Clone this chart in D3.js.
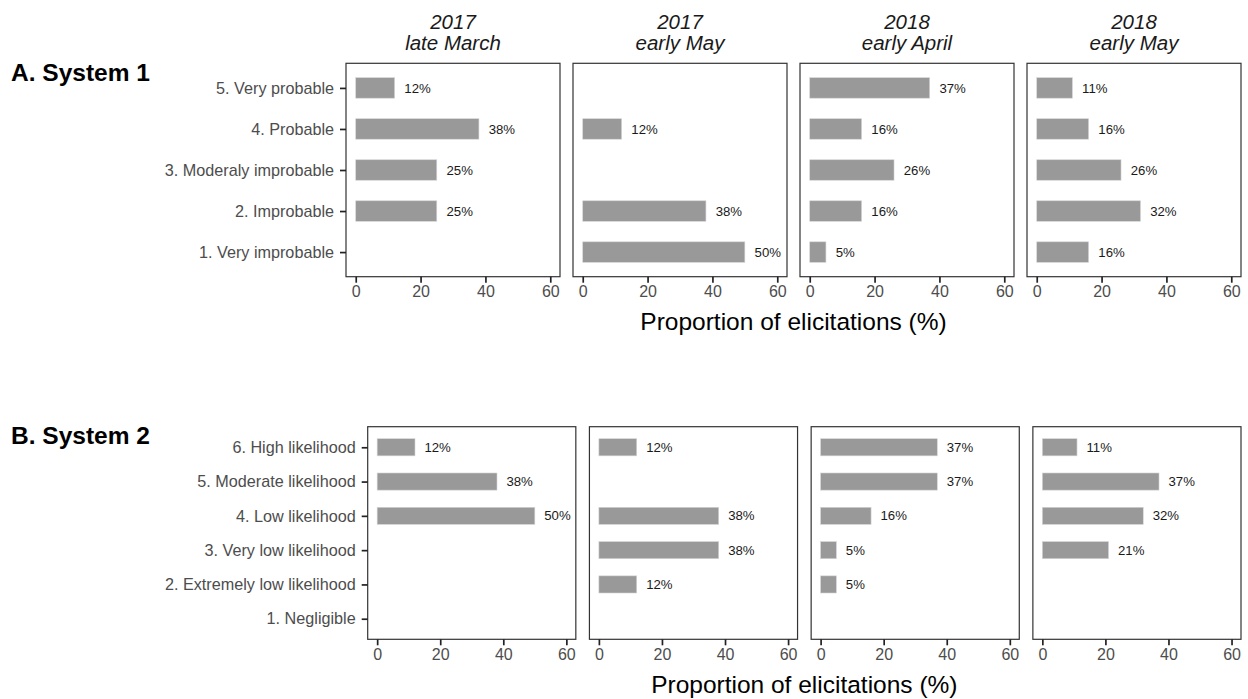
<!DOCTYPE html>
<html>
<head>
<meta charset="utf-8">
<script src="https://cdn.jsdelivr.net/npm/d3@7"></script>
<style>
  html, body { margin: 0; padding: 0; background: #ffffff; }
  svg { display: block; font-family: "Liberation Sans", Arial, Helvetica, sans-serif; }
</style>
</head>
<body>
<svg id="chart" width="1248" height="699"></svg>
<script>
// ---------- DATA ----------
const periods = ["2017\nlate March", "2017\nearly May", "2018\nearly April", "2018\nearly May"];

const system1Categories = ["5. Very probable", "4. Probable", "3. Moderaly improbable", "2. Improbable", "1. Very improbable"];
const system1_2017_lateMarch = [12, 38, 25, 25, null];
const system1_2017_earlyMay = [null, 12, null, 38, 50];
const system1_2018_earlyApril = [37, 16, 26, 16, 5];
const system1_2018_earlyMay = [11, 16, 26, 32, 16];

const system2Categories = ["6. High likelihood", "5. Moderate likelihood", "4. Low likelihood", "3. Very low likelihood", "2. Extremely low likelihood", "1. Negligible"];
const system2_2017_lateMarch = [12, 38, 50, null, null, null];
const system2_2017_earlyMay = [12, null, 38, 38, 12, null];
const system2_2018_earlyApril = [37, 37, 16, 5, 5, null];
const system2_2018_earlyMay = [11, 37, 32, 21, null, null];

const xTicks = [0, 20, 40, 60];
const xDomain = [-3, 63];
const axisTitle = "Proportion of elicitations (%)";
const rowTitles = ["A. System 1", "B. System 2"];

// ---------- LAYOUT ----------
const svg = d3.select("#chart");
const rows = [
  { title: rowTitles[0], cats: system1Categories,
    series: [system1_2017_lateMarch, system1_2017_earlyMay, system1_2018_earlyApril, system1_2018_earlyMay],
    left: 346, right: 1241, top: 63.3, bottom: 276.7, gap: 13, titleY: 81, showHeaders: true, axisTitleY: 330 },
  { title: rowTitles[1], cats: system2Categories,
    series: [system2_2017_lateMarch, system2_2017_earlyMay, system2_2018_earlyApril, system2_2018_earlyMay],
    left: 367.7, right: 1241, top: 426.7, bottom: 639.3, gap: 13.6, titleY: 443.5, showHeaders: false, axisTitleY: 693 }
];

const textCol = "#4d4d4d";
const borderCol = "#333333";
const barFill = "#999999";

rows.forEach(row => {
  const n = row.series.length;
  const pw = (row.right - row.left - row.gap * (n - 1)) / n;

  // row label
  svg.append("text")
    .attr("x", 11).attr("y", row.titleY)
    .attr("font-size", 24.5).attr("font-weight", "bold").attr("fill", "#000")
    .text(row.title);

  // y scale (shared)
  const y = d3.scalePoint().domain(row.cats).range([row.top, row.bottom]).padding(0.6);
  const step = y.step();
  const barH = step * 0.5;

  row.series.forEach((vals, i) => {
    const x0 = row.left + i * (pw + row.gap);
    const x = d3.scaleLinear().domain(xDomain).range([x0, x0 + pw]);
    const g = svg.append("g");

    // bars
    const data = row.cats.map((c, k) => ({ cat: c, v: vals[k] })).filter(d => d.v !== null);
    g.selectAll("rect.bar").data(data).enter().append("rect")
      .attr("class", "bar")
      .attr("x", x(0))
      .attr("y", d => y(d.cat) - barH / 2)
      .attr("width", d => x(d.v) - x(0))
      .attr("height", barH)
      .attr("fill", barFill)
      .attr("stroke", "#d6d6d6").attr("stroke-width", 0.6);

    // value labels
    g.selectAll("text.lab").data(data).enter().append("text")
      .attr("class", "lab")
      .attr("x", d => x(d.v + 3))
      .attr("y", d => y(d.cat))
      .attr("dy", "0.35em")
      .attr("font-size", 13.2).attr("fill", "#1a1a1a")
      .text(d => d.v + "%");

    // panel border
    g.append("rect")
      .attr("x", x0).attr("y", row.top)
      .attr("width", pw).attr("height", row.bottom - row.top)
      .attr("fill", "none").attr("stroke", borderCol).attr("stroke-width", 1.2);

    // x axis
    const xa = g.append("g").attr("transform", `translate(0,${row.bottom})`)
      .call(d3.axisBottom(x).tickValues(xTicks).tickSize(6).tickPadding(3));
    xa.select(".domain").remove();
    xa.selectAll(".tick line").attr("stroke", "#222").attr("stroke-width", 1.7);
    xa.selectAll(".tick text").attr("font-size", 16).attr("fill", textCol)
      .attr("font-family", "'Liberation Sans', Arial, sans-serif");

    // y axis on first panel
    if (i === 0) {
      const ya = g.append("g").attr("transform", `translate(${x0},0)`)
        .call(d3.axisLeft(y).tickSize(6).tickPadding(6));
      ya.select(".domain").remove();
      ya.selectAll(".tick line").attr("stroke", "#222").attr("stroke-width", 1.7);
      ya.selectAll(".tick text").attr("font-size", 16.2).attr("fill", textCol)
        .attr("font-family", "'Liberation Sans', Arial, sans-serif");
    }

    // strip headers
    if (row.showHeaders) {
      const lines = periods[i].split("\n");
      const cx = x0 + pw / 2;
      svg.append("text").attr("x", cx).attr("y", 28.5)
        .attr("text-anchor", "middle").attr("font-size", 20.5).attr("font-style", "italic")
        .attr("fill", "#1a1a1a").text(lines[0]);
      svg.append("text").attr("x", cx).attr("y", 50)
        .attr("text-anchor", "middle").attr("font-size", 20.5).attr("font-style", "italic")
        .attr("fill", "#1a1a1a").text(lines[1]);
    }
  });

  // axis title
  svg.append("text")
    .attr("x", (row.left + row.right) / 2).attr("y", row.axisTitleY)
    .attr("text-anchor", "middle").attr("font-size", 24.5).attr("fill", "#000")
    .text(axisTitle);
});
</script>
</body>
</html>
